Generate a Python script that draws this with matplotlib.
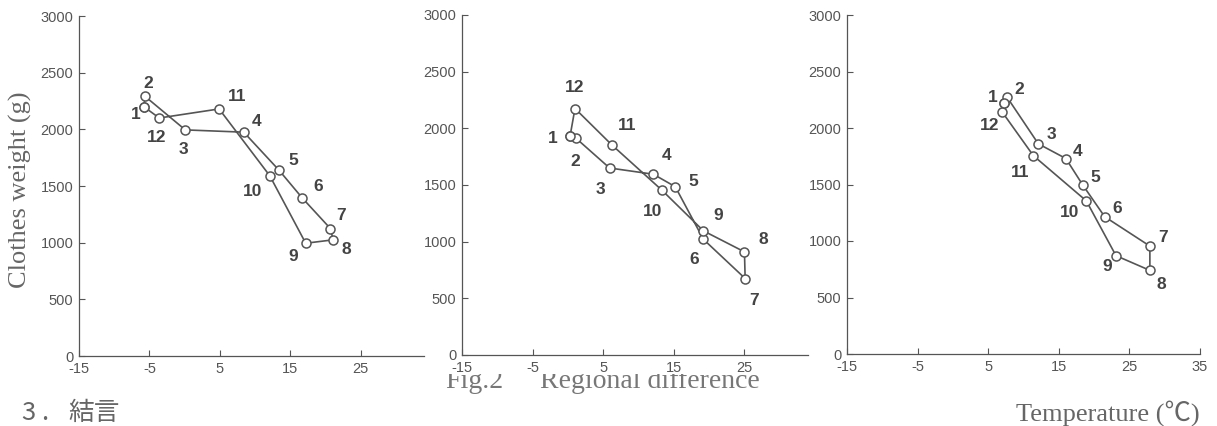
import numpy as np
import matplotlib.pyplot as plt
from matplotlib.transforms import Bbox, TransformedBbox

plt.rcParams['axes.unicode_minus'] = False

months = [1, 2, 3, 4, 5, 6, 7, 8, 9, 10, 11, 12]

# region 1
temp_a = [-5.8, -5.6, 0.1, 8.4, 13.4, 16.7, 20.7, 21.1, 17.2, 12.1, 4.9, -3.6]
weight_a = [2200, 2290, 1995, 1975, 1640, 1395, 1125, 1025, 995, 1590, 2180, 2100]

# region 2
temp_b = [0.3, 1.1, 5.9, 12.1, 15.2, 19.2, 25.1, 25.0, 19.2, 13.3, 6.2, 1.0]
weight_b = [1930, 1915, 1650, 1595, 1485, 1020, 675, 910, 1095, 1455, 1855, 2175]

# region 3
temp_c = [7.2, 7.7, 12.1, 16.0, 18.4, 21.5, 27.9, 27.9, 23.1, 18.9, 11.4, 7.0]
weight_c = [2225, 2270, 1860, 1730, 1495, 1215, 955, 740, 870, 1355, 1755, 2140]

yticks = [0, 500, 1000, 1500, 2000, 2500, 3000]

# where the month numbers sit, in pixels from the point
off_a = [(-8, -8), (3, 13), (-2, -20), (13, 11), (14, 10), (16, 11), (11, 13),
         (13, -10), (-13, -13), (-17, -16), (18, 12), (-3, -19)]
off_b = [(-17, -2), (0, -24), (-9, -21), (13, 19), (18, 5), (-9, -20), (9, -22),
         (19, 12), (15, 15), (-9, -21), (15, 19), (0, 21)]
off_c = [(-11, 5), (12, 8), (13, 9), (12, 7), (12, 8), (12, 8), (13, 9),
         (11, -14), (-9, -11), (-17, -12), (-13, -17), (-13, -13)]

W, H = 1217, 426
fig = plt.figure(figsize=(W / 100, H / 100), dpi=100)
fig.patch.set_facecolor('white')

gray = '#555555'


def panel(rect, temps, weights, offs, xmax, xticks):
    ax = fig.add_axes(rect)
    x = np.append(temps, temps[0])
    y = np.append(weights, weights[0])
    ax.plot(x, y, color=gray, lw=1.2, marker='o', ms=6.5, mfc='white',
            mec=gray, mew=1.1, zorder=3)
    for m, t, w, (dx, dy) in zip(months, temps, weights, offs):
        ax.annotate(str(m), (t, w), xytext=(dx, dy), textcoords='offset pixels',
                    ha='center', va='center', fontsize=12.5, fontweight='bold',
                    family='Liberation Sans', color='#444444')
    ax.set_xlim(-15, xmax)
    ax.set_ylim(0, 3000)
    ax.set_xticks(xticks)
    ax.set_yticks(yticks)
    for s in ['top', 'right']:
        ax.spines[s].set_visible(False)
    for s in ['left', 'bottom']:
        ax.spines[s].set_color(gray)
        ax.spines[s].set_linewidth(0.9)
    ax.tick_params(direction='in', length=4.3, width=0.8, color=gray,
                   labelsize=10.5, labelcolor='#555555', pad=4)
    for lab in ax.get_xticklabels() + ax.get_yticklabels():
        lab.set_family('Liberation Sans')
    ax.patch.set_alpha(0)
    return ax


panel([79 / W, 1 - 356 / H, 345 / W, 340 / H], temp_a, weight_a, off_a, 34,
      [-15, -5, 5, 15, 25])
panel([462 / W, 1 - 355 / H, 346 / W, 340 / H], temp_b, weight_b, off_b, 34,
      [-15, -5, 5, 15, 25])
panel([847 / W, 1 - 354 / H, 353 / W, 339 / H], temp_c, weight_c, off_c, 35,
      [-15, -5, 5, 15, 25, 35])

fig.text(20 / W, 1 - 190 / H, 'Clothes weight (g)', rotation=90, ha='center',
         va='center', fontsize=19, family='Liberation Serif', color='#666666')
fig.text(1200 / W, 1 - 413 / H, 'Temperature (℃)', ha='right', va='center',
         fontsize=19, family=['Liberation Serif', 'Noto Sans CJK JP'],
         color='#666666')
fig.text(22 / W, 1 - 413 / H, '3 .', ha='left', va='center', fontsize=18.5,
         family=['Noto Sans CJK JP', 'DejaVu Sans'], color='#666666')
fig.text(68 / W, 1 - 413 / H, '結言', ha='left', va='center', fontsize=18.5,
         family=['Noto Sans CJK JP', 'DejaVu Sans'], color='#666666')

# caption, its upper half is hidden in the scan
clip = TransformedBbox(Bbox([[0, 0], [1, (H - 374) / H]]), fig.transFigure)
for xpos, s in [(445, 'Fig.2'), (540, 'Regional difference')]:
    t = fig.text(xpos / W, 1 - 388 / H, s, ha='left', va='baseline',
                 fontsize=20, family='Liberation Serif', color='#777777')
    t.set_clip_box(clip)
    t.set_clip_on(True)

fig.savefig('out.png', dpi=100, facecolor='white')
